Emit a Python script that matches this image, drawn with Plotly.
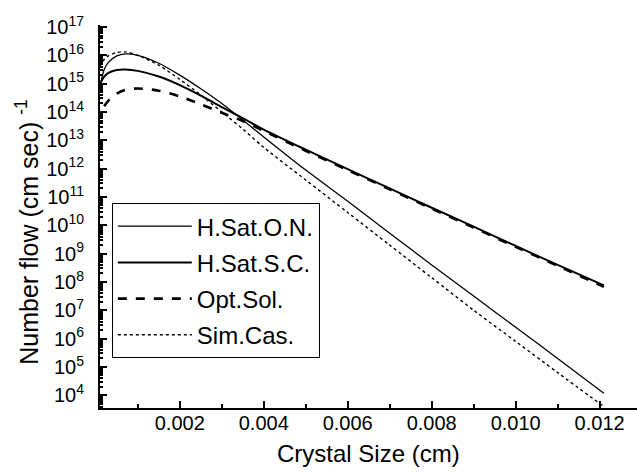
import plotly.graph_objects as go

# Crystal size (cm)
x_hson = [0.0001, 0.0002, 0.0003, 0.0005, 0.0007, 0.001, 0.0015, 0.002, 0.0025, 0.003, 0.0035,
          0.004, 0.005, 0.006, 0.007, 0.008, 0.009, 0.010, 0.011, 0.0121]
# log10 of number flow
log_hson = [14.9, 15.5, 15.75, 15.98, 16.05, 16.0, 15.72, 15.3, 14.82, 14.3, 13.72,
            13.12, 11.95, 10.85, 9.72, 8.6, 7.5, 6.4, 5.3, 4.07]

x_hssc = [0.0001, 0.0002, 0.0003, 0.0005, 0.0007, 0.001, 0.0015, 0.002, 0.0025, 0.003, 0.0035,
          0.004, 0.005, 0.006, 0.007, 0.008, 0.009, 0.010, 0.011, 0.0121]
log_hssc = [15.0, 15.25, 15.38, 15.48, 15.5, 15.45, 15.25, 14.95, 14.58, 14.17, 13.78,
            13.38, 12.67, 11.98, 11.3, 10.62, 9.95, 9.27, 8.6, 7.88]

x_opt = [0.0002, 0.0003, 0.0005, 0.0007, 0.001, 0.0015, 0.002, 0.0025, 0.003, 0.0035,
         0.004, 0.005, 0.006, 0.007, 0.008, 0.009, 0.010, 0.011, 0.0121]
log_opt = [14.2, 14.4, 14.65, 14.78, 14.83, 14.75, 14.55, 14.27, 13.97, 13.68,
           13.33, 12.63, 11.95, 11.27, 10.59, 9.92, 9.24, 8.57, 7.83]

x_sim = [0.0001, 0.0002, 0.0003, 0.0005, 0.0007, 0.001, 0.0015, 0.002, 0.0025, 0.003, 0.0035,
         0.004, 0.005, 0.006, 0.007, 0.008, 0.009, 0.010, 0.011, 0.0121]
log_sim = [15.6, 15.85, 15.98, 16.1, 16.12, 16.0, 15.65, 15.15, 14.6, 14.0, 13.4,
           12.75, 11.6, 10.45, 9.3, 8.15, 7.0, 5.9, 4.8, 3.6]

names = ["H.Sat.O.N.", "H.Sat.S.C.", "Opt.Sol.", "Sim.Cas."]

y_tick_exps = list(range(4, 18))
x_tick_vals = [0.002, 0.004, 0.006, 0.008, 0.010, 0.012]
x_tick_text = ["0.002", "0.004", "0.006", "0.008", "0.010", "0.012"]

x_title = "Crystal Size (cm)"
y_title = "Number flow (cm sec) <sup>-1</sup>"

FONT = "Liberation Sans, Arial"

fig = go.Figure()
series = [
    (x_hson, log_hson, names[0], dict(color="black", width=1.3, dash="solid")),
    (x_hssc, log_hssc, names[1], dict(color="black", width=2.0, dash="solid")),
    (x_opt, log_opt, names[2], dict(color="black", width=2.6, dash="dash")),
    (x_sim, log_sim, names[3], dict(color="black", width=1.4, dash="dot")),
]
for i, (xs, ls, nm, ln) in enumerate(series):
    fig.add_trace(go.Scatter(x=xs, y=[10 ** v for v in ls], mode="lines", name=nm,
                             legendgroup="g%d" % i,
                             line=dict(shape="spline", smoothing=0.8, **ln)))

minor_y = [k * 10 ** e for e in range(3, 17) for k in range(2, 10)]

fig.update_layout(
    width=637, height=472,
    margin=dict(l=100, r=0, t=25, b=64),
    paper_bgcolor="white", plot_bgcolor="white",
    font=dict(family=FONT, color="black", size=20),
    legend=dict(x=0.022, y=0.535, xanchor="left", yanchor="top",
                bordercolor="black", borderwidth=1, bgcolor="white",
                font=dict(family=FONT, size=24), itemwidth=74,
                tracegroupgap=2),
    showlegend=True,
)
fig.update_xaxes(
    range=[0.0001, 0.01289], showline=True, linecolor="black", linewidth=2,
    mirror=False, showgrid=False, zeroline=False, automargin=False,
    tickvals=x_tick_vals, ticktext=x_tick_text, ticks="inside", ticklen=7,
    tickwidth=1.5, tickcolor="black", tickfont=dict(size=20), ticklabelstandoff=-4,
    minor=dict(dtick=0.001, tick0=0, ticks="inside", ticklen=4, tickcolor="black"),
)
fig.update_yaxes(
    type="log", range=[3.55, 17.07], showline=True, linecolor="black", linewidth=2,
    mirror=False, showgrid=False, zeroline=False, automargin=False,
    tickvals=[10 ** e for e in y_tick_exps],
    ticktext=["10<sup>%d</sup>" % e for e in y_tick_exps],
    ticks="inside", ticklen=7, tickwidth=1.5, tickcolor="black",
    tickfont=dict(size=20), ticklabelstandoff=10,
    minor=dict(tickvals=minor_y, ticks="inside", ticklen=3, tickcolor="black"),
)
# Axis titles placed as annotations to match the reference positions
fig.add_annotation(text=x_title, xref="paper", yref="paper", x=0.5, y=-0.12,
                   xanchor="center", yanchor="middle", showarrow=False,
                   font=dict(size=24))
fig.add_annotation(text=y_title, xref="paper", yref="paper", x=-0.136, y=0.46,
                   xanchor="center", yanchor="middle", showarrow=False, textangle=-90,
                   font=dict(size=25))

fig.write_html("out.html", config={"displayModeBar": False},
               post_script="document.body.style.margin='0';document.body.style.overflow='hidden';")
